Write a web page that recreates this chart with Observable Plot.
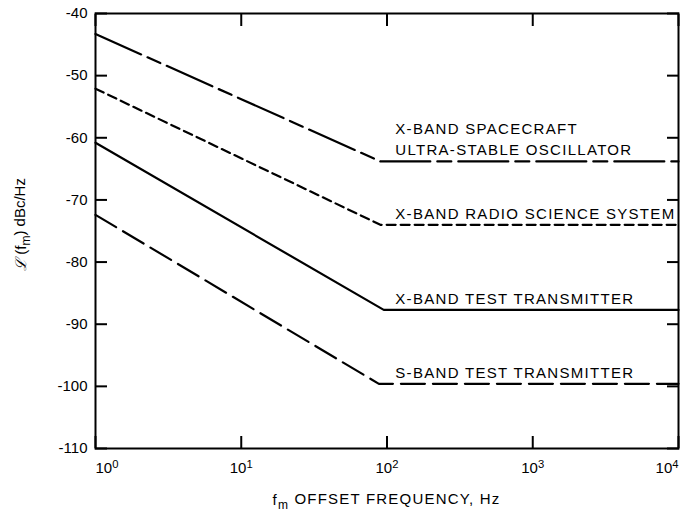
<!DOCTYPE html>
<html>
<head>
<meta charset="utf-8">
<script src="https://cdn.jsdelivr.net/npm/d3@7"></script>
<script src="https://cdn.jsdelivr.net/npm/@observablehq/plot@0.6"></script>
<style>
  html, body { margin: 0; padding: 0; background: #fff; }
  svg { display: block; }
</style>
</head>
<body>
<div id="chart"></div>
<script>
// Single-sideband phase noise of the four signal sources
const seriesNames = [
  "X-BAND SPACECRAFT\nULTRA-STABLE OSCILLATOR",
  "X-BAND RADIO SCIENCE SYSTEM",
  "X-BAND TEST TRANSMITTER",
  "S-BAND TEST TRANSMITTER"
];
const startFreq = 1;                                   // Hz
const startLevel = [-43.3, -52.1, -60.8, -72.4];       // dBc/Hz at 1 Hz
const cornerFreq = [90, 90, 95, 88];                   // Hz, where the floor begins
const floorLevel = [-63.8, -74.0, -87.7, -99.6];       // dBc/Hz
const endFreq = 10000;                                 // Hz
const labelFreq = 114;                                 // Hz, where the curve names start

const yTicks = [-110, -100, -90, -80, -70, -60, -50, -40];
const xTicks = [1, 10, 100, 1000, 10000];
const xTickExponents = ["0", "1", "2", "3", "4"];

// one polyline per source: slope down to the corner, then flat
const curves = seriesNames.map((name, i) => [
  {name, f: startFreq, L: startLevel[i]},
  {name, f: cornerFreq[i], L: floorLevel[i]},
  {name, f: endFreq, L: floorLevel[i]}
]);
const curveLabels = seriesNames.map((name, i) => ({name, f: labelFreq, L: floorLevel[i]}));

const dashFor = ["50,7,14,7", "9,5", null, "24,8"];
const font = "'Liberation Sans', Arial, Helvetica, sans-serif";

const plot = Plot.plot({
  width: 684,
  height: 512,
  marginLeft: 95,
  marginRight: 6,
  marginTop: 13,
  marginBottom: 64,
  style: {fontFamily: font, fontSize: "15px", color: "#000", background: "#fff"},
  x: {type: "log", domain: [1, 10000], label: null},
  y: {domain: [-110, -40], label: null},
  marks: [
    ...curves.map((c, i) => Plot.line(c, {
      x: "f", y: "L", stroke: "#000", strokeWidth: 2.2, strokeLinejoin: "round",
      ...(dashFor[i] ? {strokeDasharray: dashFor[i]} : {})
    })),
    Plot.text(curveLabels, {
      x: "f", y: "L", text: "name", textAnchor: "start", lineAnchor: "bottom",
      dy: -6, fontSize: 15, lineHeight: 1.4, fill: "#000"
    }),
    // tick labels
    Plot.axisY(yTicks, {anchor: "left", tickSize: 0, tickPadding: 8, fontSize: 15, tickFormat: d => String(d), label: null}),
    Plot.axisX(xTicks, {anchor: "bottom", tickSize: 0, tickPadding: 14, fontSize: 15, tickFormat: d => `10^${xTickExponents[xTicks.indexOf(d)]}`, label: null}),
    // inward tick marks on all four sides
    Plot.axisY(yTicks, {anchor: "left", tickSize: -12, strokeWidth: 2, tickFormat: () => "", label: null}),
    Plot.axisY(yTicks, {anchor: "right", tickSize: -12, strokeWidth: 2, tickFormat: () => "", label: null}),
    Plot.axisX(xTicks, {anchor: "bottom", tickSize: -12, strokeWidth: 2, tickFormat: () => "", label: null}),
    Plot.axisX(xTicks, {anchor: "top", tickSize: -12, strokeWidth: 2, tickFormat: () => "", label: null}),
    Plot.frame({stroke: "#000", strokeWidth: 2})
  ]
});

const svg = d3.select(plot);

// curve names are set with a little extra letter spacing
svg.selectAll('g[aria-label="text"] text').attr("letter-spacing", "1.3");

// decade labels as 10 with a raised exponent
const decadeLabels = svg.selectAll("text").filter(function () { return this.textContent.includes("^"); });
decadeLabels.each(function () {
  const [base, exp] = this.textContent.split("^");
  const t = d3.select(this);
  t.text(null);
  t.append("tspan").text(base);
  t.append("tspan").attr("dy", "-0.45em").attr("font-size", "0.75em").text(exp);
});
const decadeNodes = decadeLabels.nodes();
d3.select(decadeNodes[0]).attr("text-anchor", "start");
d3.select(decadeNodes[decadeNodes.length - 1]).attr("text-anchor", "end");

// axis titles
const xr = plot.scale("x").range;
const yr = plot.scale("y").range;
const xTitle = svg.append("text")
  .attr("x", (xr[0] + xr[1]) / 2)
  .attr("y", yr[0] + 57)
  .attr("text-anchor", "middle")
  .attr("font-family", font)
  .attr("font-size", 15)
  .attr("letter-spacing", "1.2")
  .attr("fill", "#000");
xTitle.append("tspan").text("f");
xTitle.append("tspan").attr("dy", "0.3em").attr("font-size", "0.8em").text("m");
xTitle.append("tspan").attr("dy", "-0.3em").text(" OFFSET FREQUENCY, Hz");

const yCenter = (yr[0] + yr[1]) / 2;
const yTitle = svg.append("text")
  .attr("transform", `translate(26,${yCenter - 6}) rotate(-90)`)
  .attr("text-anchor", "middle")
  .attr("font-family", font)
  .attr("font-size", 15)
  .attr("fill", "#000");
yTitle.append("tspan").attr("font-family", "'DejaVu Serif', serif").attr("font-style", "italic").text("ℒ");
yTitle.append("tspan").text(" (f");
yTitle.append("tspan").attr("dy", "0.3em").attr("font-size", "0.8em").text("m");
yTitle.append("tspan").attr("dy", "-0.3em").text(") dBc/Hz");

document.getElementById("chart").appendChild(plot);
</script>
</body>
</html>
